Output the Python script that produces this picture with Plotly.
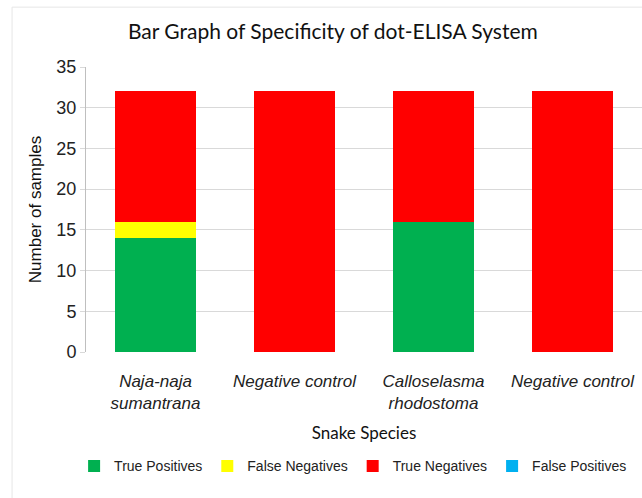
import plotly.graph_objects as go

categories = ["<i>Naja-naja<br>sumantrana</i>", "<i>Negative control</i>",
              "<i>Calloselasma<br>rhodostoma</i>", "<i>Negative control</i>"]
true_positives = [14, 0, 16, 0]
false_negatives = [2, 0, 0, 0]
true_negatives = [16, 32, 16, 32]
false_positives = [0, 0, 0, 0]

series = [
    ("True Positives", true_positives, "#00b050"),
    ("False Negatives", false_negatives, "#ffff00"),
    ("True Negatives", true_negatives, "#ff0000"),
    ("False Positives", false_positives, "#00b0f0"),
]

positions = list(range(len(categories)))

fig = go.Figure()
for name, vals, col in series:
    fig.add_trace(go.Bar(x=positions, y=vals, name=name, marker_color=col,
                         marker_line_width=0))

fig.update_layout(
    width=642, height=498,
    barmode="stack", bargap=0.42,
    paper_bgcolor="white", plot_bgcolor="white",
    margin=dict(l=86, r=0, t=67, b=146, autoexpand=False),
    font=dict(family="Liberation Sans", size=16, color="#222"),
    title=dict(text="Bar Graph of Specificity of dot-ELISA System",
               font=dict(family="Lato", size=21, color="#111"),
               x=0.444, xref="paper", y=0.952, yref="container", xanchor="center"),
    xaxis=dict(title=dict(text="Snake Species",
                          font=dict(family="Lato", size=17, color="#111"),
                          standoff=15),
               tickmode="array", tickvals=positions, ticktext=categories,
               range=[-0.5, 3.5], automargin=False, ticklabelstandoff=17,
               showline=False, ticks="", tickfont=dict(size=17, color="#222")),
    yaxis=dict(title=dict(text="Number of samples", font=dict(size=17, color="#111"), standoff=10),
               range=[0, 35], dtick=5, showgrid=True, gridcolor="#d9d9d9", automargin=False,
               showline=True, linecolor="#bfbfbf", ticks="outside", ticklen=5,
               tickcolor="#d9d9d9", tickfont=dict(size=18, color="#222"), zeroline=False),
    legend=dict(orientation="h", xref="container", x=0.55, xanchor="center",
                y=-0.345, yanchor="top",
                font=dict(size=14, color="#222"), traceorder="normal",
                itemwidth=30, tracegroupgap=0),
    shapes=[dict(type="rect", xref="paper", yref="paper", x0=-0.133, x1=1.1,
                 y0=-0.6, y1=1.21, line=dict(color="#e6e6e6", width=1))],
)

fig.write_html("out.html", config={"displayModeBar": False},
               post_script="document.body.style.margin='0';")
